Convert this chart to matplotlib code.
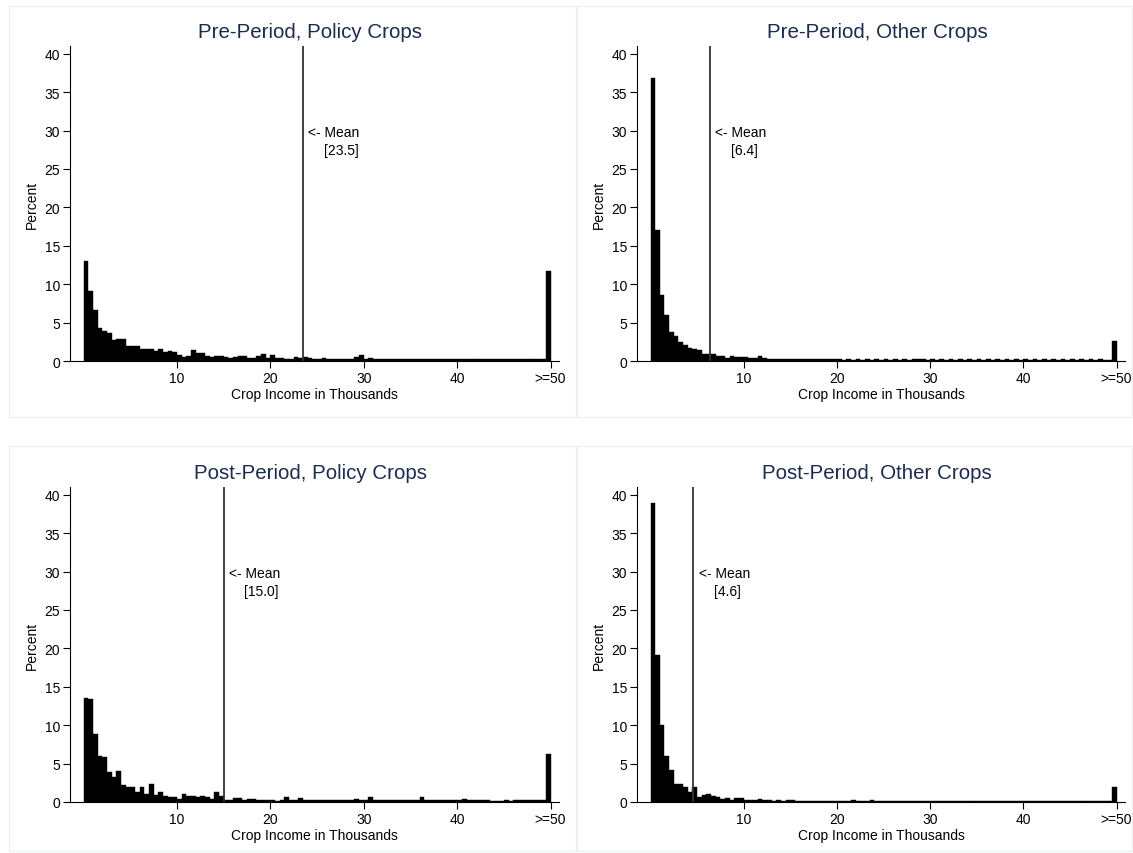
import numpy as np
import matplotlib
matplotlib.use("Agg")
import matplotlib.pyplot as plt
from matplotlib.patches import Rectangle

plt.rcParams['font.family'] = ['Liberation Sans', 'DejaVu Sans']

# histogram bins: width 0.5 from 0 to 50, last bin holds >=50
bin_width = 0.5
bin_left = np.arange(0, 50, bin_width)

pre_policy = [
    13.0, 9.1, 6.7, 4.3, 3.9, 3.6, 2.7, 2.8, 2.8, 2.0,
    1.9, 2.0, 1.5, 1.5, 1.6, 1.3, 1.6, 1.2, 1.3, 1.2,
    0.8, 0.5, 0.6, 1.4, 1.0, 1.0, 0.6, 0.5, 0.7, 0.6,
    0.5, 0.4, 0.5, 0.6, 0.6, 0.4, 0.4, 0.6, 0.9, 0.4,
    0.8, 0.4, 0.4, 0.3, 0.2, 0.5, 0.4, 0.5, 0.4, 0.3,
    0.3, 0.4, 0.3, 0.2, 0.2, 0.3, 0.3, 0.3, 0.5, 0.8,
    0.2, 0.4, 0.2, 0.2, 0.2, 0.2, 0.2, 0.2, 0.3, 0.2,
    0.3, 0.2, 0.2, 0.2, 0.3, 0.2, 0.2, 0.3, 0.3, 0.2,
    0.3, 0.2, 0.3, 0.3, 0.2, 0.2, 0.2, 0.2, 0.2, 0.2,
    0.2, 0.2, 0.2, 0.2, 0.2, 0.2, 0.2, 0.3, 0.2, 11.7,
]

pre_other = [
    36.9, 17.1, 8.6, 6.0, 3.8, 3.2, 2.5, 2.1, 1.7, 1.5,
    1.4, 0.9, 0.9, 0.9, 0.7, 0.6, 0.4, 0.7, 0.5, 0.5,
    0.5, 0.4, 0.4, 0.6, 0.4, 0.3, 0.3, 0.3, 0.2, 0.2,
    0.2, 0.2, 0.2, 0.3, 0.3, 0.3, 0.2, 0.2, 0.2, 0.2,
    0.2, 0.1, 0.2, 0.1, 0.2, 0.1, 0.2, 0.1, 0.2, 0.1,
    0.2, 0.1, 0.2, 0.1, 0.2, 0.1, 0.2, 0.2, 0.2, 0.1,
    0.2, 0.1, 0.2, 0.1, 0.2, 0.1, 0.2, 0.1, 0.2, 0.1,
    0.2, 0.1, 0.2, 0.1, 0.2, 0.1, 0.2, 0.1, 0.2, 0.1,
    0.2, 0.1, 0.2, 0.1, 0.2, 0.1, 0.2, 0.1, 0.2, 0.1,
    0.2, 0.1, 0.2, 0.1, 0.2, 0.1, 0.2, 0.1, 0.1, 2.6,
]

post_policy = [
    13.6, 13.4, 8.9, 6.0, 5.9, 3.9, 3.3, 4.0, 2.2, 2.0,
    2.0, 1.3, 2.0, 1.0, 2.3, 0.9, 1.3, 0.8, 0.65, 0.65,
    0.4, 1.0, 0.8, 0.8, 0.7, 0.8, 0.7, 0.4, 1.3, 0.8,
    0.2, 0.3, 0.5, 0.5, 0.3, 0.4, 0.4, 0.2, 0.3, 0.2,
    0.2, 0.1, 0.2, 0.6, 0.3, 0.2, 0.5, 0.3, 0.3, 0.2,
    0.2, 0.3, 0.2, 0.3, 0.25, 0.2, 0.3, 0.2, 0.4, 0.3,
    0.2, 0.65, 0.2, 0.3, 0.2, 0.2, 0.3, 0.2, 0.2, 0.3,
    0.2, 0.3, 0.6, 0.3, 0.2, 0.3, 0.2, 0.2, 0.3, 0.2,
    0.3, 0.35, 0.3, 0.2, 0.2, 0.2, 0.2, 0.15, 0.1, 0.15,
    0.2, 0.15, 0.2, 0.2, 0.2, 0.2, 0.2, 0.3, 0.2, 6.2,
]

post_other = [
    38.9, 19.1, 10.0, 6.0, 4.2, 2.3, 2.4, 2.0, 1.3, 1.9,
    0.6, 0.9, 1.1, 0.8, 0.6, 0.4, 0.5, 0.3, 0.5, 0.5,
    0.3, 0.2, 0.3, 0.4, 0.3, 0.2, 0.1, 0.2, 0.15, 0.2,
    0.2, 0.15, 0.15, 0.1, 0.15, 0.15, 0.1, 0.15, 0.15, 0.1,
    0.15, 0.1, 0.15, 0.2, 0.15, 0.1, 0.15, 0.3, 0.15, 0.1,
    0.15, 0.1, 0.15, 0.1, 0.15, 0.15, 0.1, 0.15, 0.1, 0.15,
    0.1, 0.15, 0.1, 0.15, 0.1, 0.15, 0.1, 0.15, 0.1, 0.15,
    0.1, 0.15, 0.1, 0.15, 0.1, 0.15, 0.1, 0.15, 0.1, 0.15,
    0.1, 0.15, 0.1, 0.15, 0.1, 0.15, 0.1, 0.15, 0.1, 0.15,
    0.1, 0.15, 0.1, 0.15, 0.1, 0.15, 0.1, 0.15, 0.1, 2.0,
]

titles = ["Pre-Period, Policy Crops", "Pre-Period, Other Crops",
          "Post-Period, Policy Crops", "Post-Period, Other Crops"]
means = [23.5, 6.4, 15.0, 4.6]
series = [pre_policy, pre_other, post_policy, post_other]

xticks = [10, 20, 30, 40, 50]
xtick_labels = ["10", "20", "30", "40", ">=50"]
yticks = [0, 5, 10, 15, 20, 25, 30, 35, 40]

W, H = 1133, 854
fig = plt.figure(figsize=(W / 100, H / 100), dpi=100)

# pixel boxes of each plot region: left, right, top, bottom
boxes = [(70, 559, 47, 362), (637, 1125, 47, 362),
         (70, 559, 488, 803), (637, 1125, 488, 803)]
frames = [(9, 576, 7, 418), (577, 1132, 7, 418),
          (9, 576, 447, 852), (577, 1132, 447, 852)]

for fr in frames:
    l, r, t, b = fr
    fig.patches.append(Rectangle((l / W, 1 - b / H), (r - l) / W, (b - t) / H,
                                 transform=fig.transFigure, fill=False,
                                 edgecolor="#edf1f3", linewidth=1.0))

for i in range(4):
    l, r, t, b = boxes[i]
    ax = fig.add_axes([l / W, 1 - b / H, (r - l) / W, (b - t) / H])
    ax.bar(bin_left, series[i], width=bin_width, align="edge",
           color="black", edgecolor="black", linewidth=0.3)
    ax.axvline(means[i], color="#333333", linewidth=1.3)
    ax.text(means[i] + 0.55, 29.8, "<- Mean", fontsize=10, va="center")
    ax.text(means[i] + 2.2, 27.4, "[%.1f]" % means[i], fontsize=10, va="center")

    ax.set_xlim(-1.45, 50.9)
    ax.set_ylim(0, 41)
    ax.set_xticks(xticks)
    ax.set_xticklabels(xtick_labels)
    ax.set_yticks(yticks)
    ax.tick_params(axis="both", direction="out", length=5, width=0.8,
                   labelsize=10, pad=2)
    for s in ["top", "right"]:
        ax.spines[s].set_visible(False)
    for s in ["left", "bottom"]:
        ax.spines[s].set_linewidth(0.8)
    ax.set_ylabel("Percent", fontsize=10, labelpad=4)
    ax.set_xlabel("Crop Income in Thousands", fontsize=10, labelpad=2)

    cx = (l + r) / 2 - 4
    fig.text(cx / W, 1 - (t - 14) / H, titles[i], fontsize=14.8,
             color="#1c2c4f", ha="center", va="center")

fig.savefig("out.png", dpi=100)
